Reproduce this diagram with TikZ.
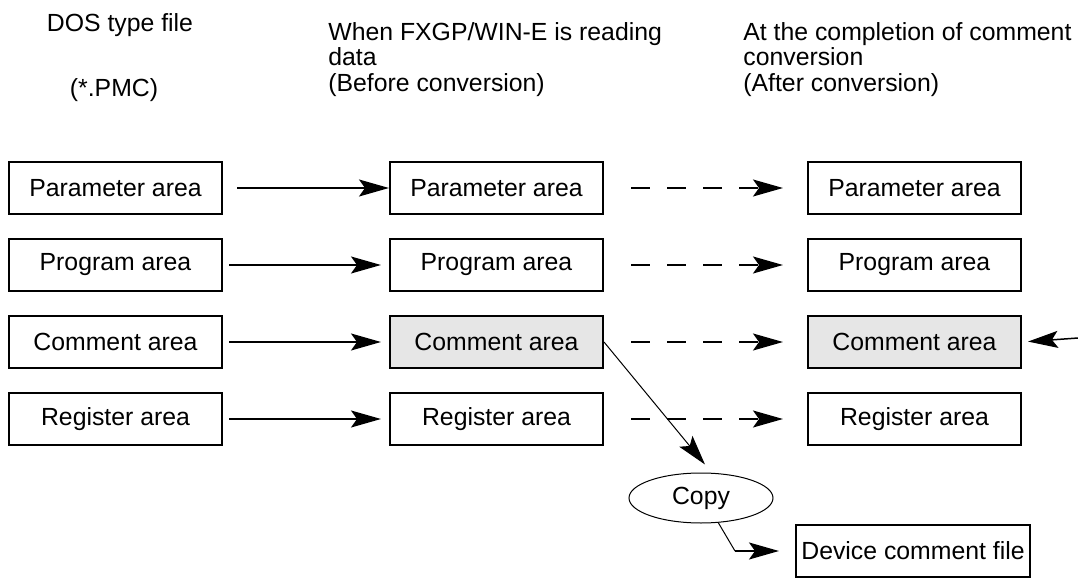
\documentclass[tikz,border=0pt]{standalone}
\usepackage{fontspec}
\setmainfont{Liberation Sans}
\usetikzlibrary{positioning, arrows.meta, shapes.geometric}
\definecolor{areaGray}{HTML}{E6E6E6}
\newcommand{\areafont}{\fontsize{12.4}{11.6}\selectfont}

\begin{document}
\begin{tikzpicture}[x=0.5pt, y=-0.5pt,
    node distance=11.5pt and 83pt,
    area/.style={draw, line width=1pt, minimum width=106.5pt, minimum height=26pt,
      inner sep=0pt, font=\areafont},
    shaded/.style={area, fill=areaGray},
    head/.style={align=left, inner sep=0pt, font=\areafont},
    arr/.style={-{Stealth[length=15pt, width=8.5pt, inset=3pt]}, line width=0.75pt},
    load/.style={arr, shorten <=3pt, shorten >=4pt},
    conv/.style={arr, dash pattern=on 9.5pt off 8.5pt, shorten <=13.5pt, shorten >=12pt}]
  \useasboundingbox (0,0) rectangle (1078,578);
  % column headings
  \node[head, anchor=north] (dos) at (120,13) {DOS type file};
  \node[head, anchor=north] (pmc) at (114,78) {(*.PMC)};
  \node[head, anchor=north west] (before) at (328,22) {When FXGP/WIN-E is reading\\[1.2pt]data\\[1.2pt](Before conversion)};
  \node[head, anchor=north west] (after) at (743,22) {At the completion of comment\\[1.2pt]conversion\\[1.2pt](After conversion)};
  % DOS type file
  \node[area] (par1) at (115.5,188) {Parameter area};
  \node[area, below=of par1] (prg1) {Program area};
  \node[area, below=of prg1] (com1) {Comment area};
  \node[area, below=of com1] (reg1) {Register area};
  % before conversion
  \node[area, right=of par1] (par2) {Parameter area};
  \node[area, right=of prg1] (prg2) {Program area};
  \node[shaded, right=of com1] (com2) {Comment area};
  \node[area, right=of reg1] (reg2) {Register area};
  % after conversion
  \node[area, right=101.5pt of par2] (par3) {Parameter area};
  \node[area, right=101.5pt of prg2] (prg3) {Program area};
  \node[shaded, right=101.5pt of com2] (com3) {Comment area};
  \node[area, right=101.5pt of reg2] (reg3) {Register area};
  % copy
  \node[draw, ellipse, line width=0.5pt, minimum width=72pt, minimum height=25pt,
    inner sep=0pt, font=\areafont] (copy) at (701,498) {Copy};
  \node[area, minimum width=117pt] (dev) at (913,551) {Device comment file};
  \coordinate[left=30pt of dev.west] (kink);
  \coordinate (edge) at (1078,338);

  \draw[arr, shorten <=7pt] (par1.east) -- (par2.west);
  \draw[load] (prg1.east) -- (prg2.west);
  \draw[load] (com1.east) -- (com2.west);
  \draw[load] (reg1.east) -- (reg2.west);
  \draw[conv] (par2.east) -- (par3.west);
  \draw[conv] (prg2.east) -- (prg3.west);
  \draw[conv] (com2.east) -- (com3.west);
  \draw[conv] (reg2.east) -- (reg3.west);
  \draw[arr, shorten >=3pt] (edge) -- (com3.east);
  \draw[arr, line width=0.5pt] (com2.east) -- ([shift={(4,-8)}]copy.north);
  \draw[line width=0.5pt] (copy.305) -- (kink);
  \draw[arr, shorten >=8pt] (kink) -- (dev.west);
\end{tikzpicture}
\end{document}
